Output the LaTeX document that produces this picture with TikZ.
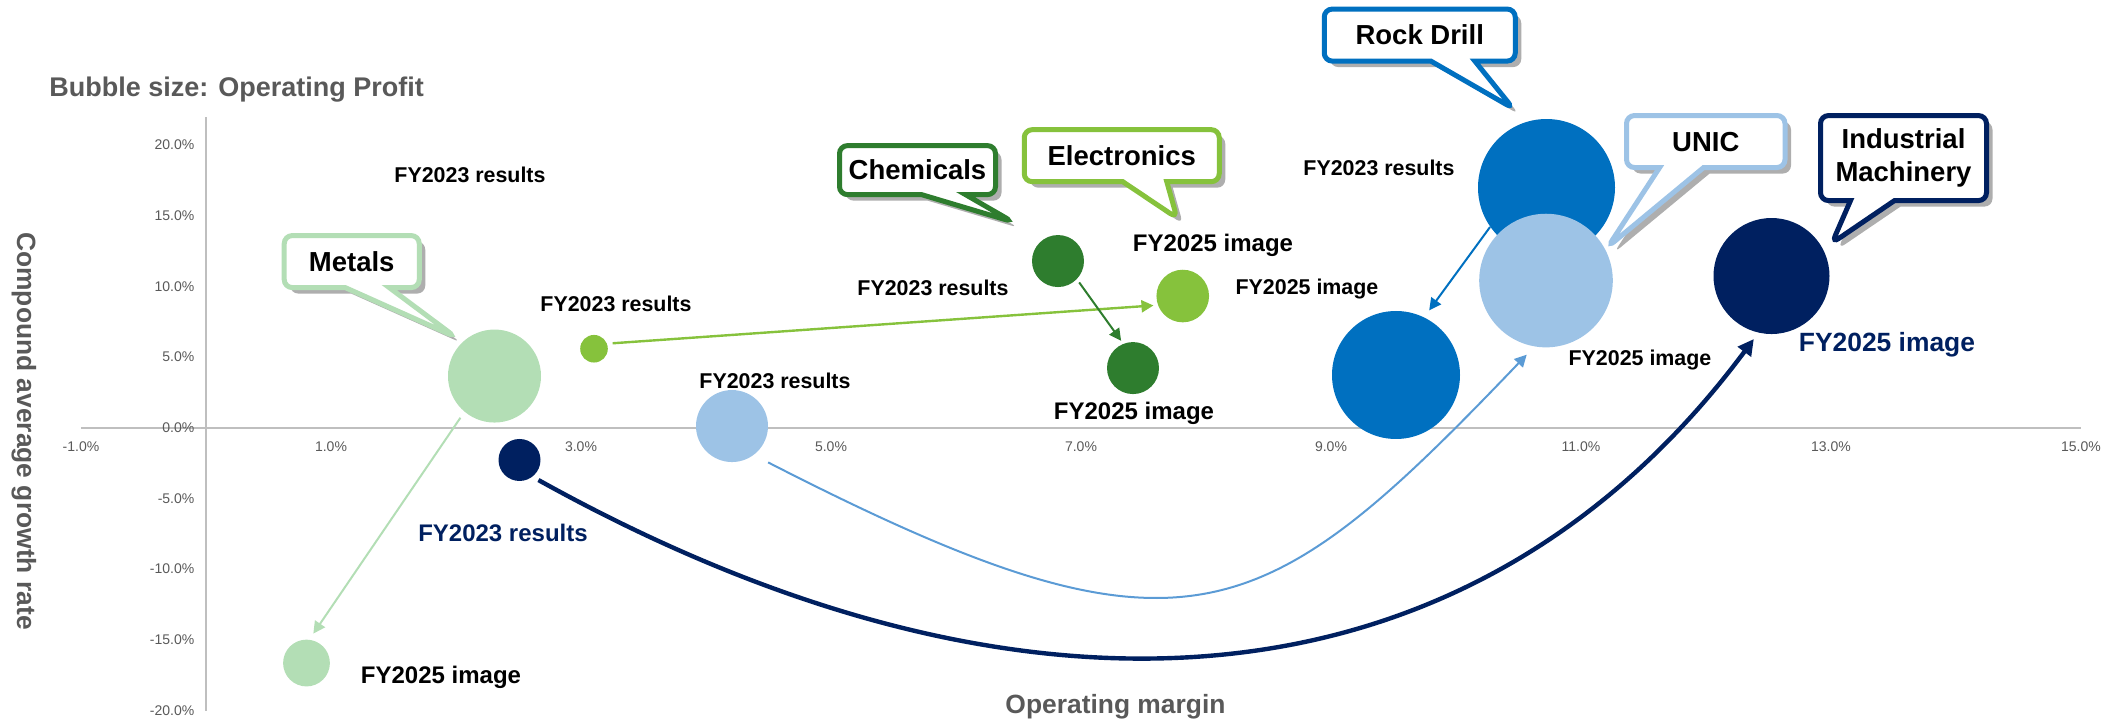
\documentclass[tikz,border=0pt]{standalone}
\usepackage{fontspec}
\setmainfont{Liberation Sans}
\usetikzlibrary{arrows.meta,shapes.callouts,shadows}

\definecolor{metal}{HTML}{B3DEB5}
\definecolor{elec}{HTML}{86C23C}
\definecolor{chem}{HTML}{2E7D2E}
\definecolor{rock}{HTML}{0070C0}
\definecolor{unic}{HTML}{9DC3E6}
\definecolor{unicline}{HTML}{5B9BD5}
\definecolor{indm}{HTML}{002060}
\definecolor{axisgray}{HTML}{BFBFBF}
\definecolor{textgray}{HTML}{595959}

\begin{document}
\begin{tikzpicture}[x=62.5pt, y=7.07pt,
  bub/.style={circle, fill=#1, inner sep=0pt},
  flow/.style={draw=#1, -{Triangle[length=6pt,width=6pt]}},
  res/.style={font=\bfseries\fontsize{10.7}{12}\selectfont, inner sep=0pt},
  img/.style={font=\bfseries\fontsize{12}{14}\selectfont, inner sep=0pt},
  ticklbl/.style={font=\fontsize{7}{8}\selectfont, text=textgray, inner sep=0pt},
  axtitle/.style={font=\bfseries\fontsize{13.2}{15}\selectfont, text=textgray, inner sep=0pt},
  calltag/.style={rectangle callout, draw=#1, fill=white, line width=2.5pt,
    rounded corners=4pt, callout pointer width=22pt, inner sep=0pt,
    minimum height=26pt, align=center,
    font=\bfseries\fontsize{13.75}{16.5}\selectfont,
    drop shadow={shadow xshift=3pt, shadow yshift=-3pt, fill=black!70, opacity=.45}}]
\useasboundingbox (-1.648,-20.81) rectangle (15.376,30.25);

% axes
\draw[axisgray, line width=1pt] (-1,0) -- (15,0);
\draw[axisgray, line width=1pt] (0,-20) -- (0,21.97);
\foreach \g in {-20,-15,...,20}
  \node[ticklbl, anchor=east] (ty\g) at (-0.09,\g) {\g.0\%};
\foreach \m in {-1,1,...,15}
  \node[ticklbl] (tx\m) at (\m,-1.37) {\m.0\%};

\node[axtitle, anchor=west, font=\bfseries\fontsize{13.5}{15}\selectfont] (bsize) at (-1.256,23.88) {Bubble size: Operating Profit};
\node[axtitle, rotate=-90] (ytitle) at (-1.456,-0.23) {Compound average growth rate};
\node[axtitle] (xtitle) at (7.276,-19.75) {Operating margin};

% bubbles
\node[bub=rock, minimum size=68.5pt] (rd23) at (10.724,16.99) {};
\node[bub=rock, minimum size=64pt] (rd25) at (9.52,3.73) {};
\node[bub=unic, minimum size=66.8pt] (un25) at (10.72,10.41) {};
\node[bub=unic, minimum size=36pt] (un23) at (4.208,0.12) {};
\node[bub=metal, minimum size=46.5pt] (mt23) at (2.308,3.656) {};
\node[bub=metal, minimum size=23.4pt] (mt25) at (0.804,-16.64) {};
\node[bub=elec, minimum size=13.8pt] (el23) at (3.104,5.587) {};
\node[bub=elec, minimum size=26.3pt] (el25) at (7.814,9.314) {};
\node[bub=chem, minimum size=26pt] (ch23) at (6.816,11.79) {};
\node[bub=chem, minimum size=26pt] (ch25) at (7.416,4.22) {};
\node[bub=indm, minimum size=21pt] (im23) at (2.508,-2.28) {};
\node[bub=indm, minimum size=58pt] (im25) at (12.524,10.73) {};

% moves from FY2023 to FY2025
\draw[flow=metal, line width=1pt, shorten <=3.5pt, shorten >=3.5pt] (mt23.230) -- (mt25.83);
\draw[flow=elec, line width=1.2pt, shorten <=2.7pt, shorten >=2.1pt] (el23.21) -- (el25.200);
\draw[flow=chem, line width=1pt, shorten <=1.9pt, shorten >=1.7pt] (ch23.-44) -- (ch25.112);
\draw[flow=rock, line width=1pt, shorten >=4.2pt] (rd23.215) -- (rd25.64);
\draw[flow=unicline, line width=1pt, shorten <=8pt, shorten >=5.5pt]
  (un23.-53) .. controls (7.82,-17.5) and (8.427,-14.6) .. (un25.260);
\draw[flow=indm, line width=2.2pt, shorten <=3.3pt, shorten >=3.8pt, -{Triangle[length=8pt,width=8pt]}]
  (im23.-52) .. controls (6.648,-23.29) and (10.176,-19.96) .. (im25.257);

% data labels
\node[res] (mt23l) at (2.112,17.86) {FY2023 results};
\node[res] (el23l) at (3.28,8.75) {FY2023 results};
\node[res] (ch23l) at (5.816,9.88) {FY2023 results};
\node[img] (el25l) at (8.056,12.92) {FY2025 image};
\node[img] (ch25l) at (7.424,1.04) {FY2025 image};
\node[img] (mt25l) at (1.88,-17.63) {FY2025 image};
\node[res] (rd25l) at (8.808,9.81) {FY2025 image};
\node[res] (rd23l) at (9.384,18.37) {FY2023 results};
\node[res] (un25l) at (11.472,4.79) {FY2025 image};
\node[res] (un23l) at (4.552,3.30) {FY2023 results};
\node[img, text=indm, font=\bfseries\fontsize{13.2}{15}\selectfont] (im25l) at (13.448,5.85) {FY2025 image};
\node[img, text=indm] (im23l) at (2.376,-7.45) {FY2023 results};

% segment callouts
\node[calltag=metal, minimum width=67.5pt, callout absolute pointer={(1.992,6.44)}] (mtt) at (1.166,11.75) {Metals};
\node[calltag=chem, minimum width=78pt, minimum height=24.5pt, callout absolute pointer={(6.452,14.57)}] (cht) at (5.692,18.22) {Chemicals};
\node[calltag=elec, minimum width=97.5pt, callout absolute pointer={(7.768,14.83)}] (elt) at (7.326,19.24) {Electronics};
\node[calltag=rock, minimum width=95.5pt, callout absolute pointer={(10.456,22.59)}] (rdt) at (9.71,27.77) {Rock Drill};
\node[calltag=unic, minimum width=79.25pt, callout absolute pointer={(11.216,12.8)}] (unt) at (11.998,20.24) {UNIC};
\node[calltag=indm, minimum width=83pt, minimum height=42.5pt, callout absolute pointer={(13.008,13.06)}] (imt) at (13.58,19.07) {Industrial\\Machinery};
\end{tikzpicture}
\end{document}
